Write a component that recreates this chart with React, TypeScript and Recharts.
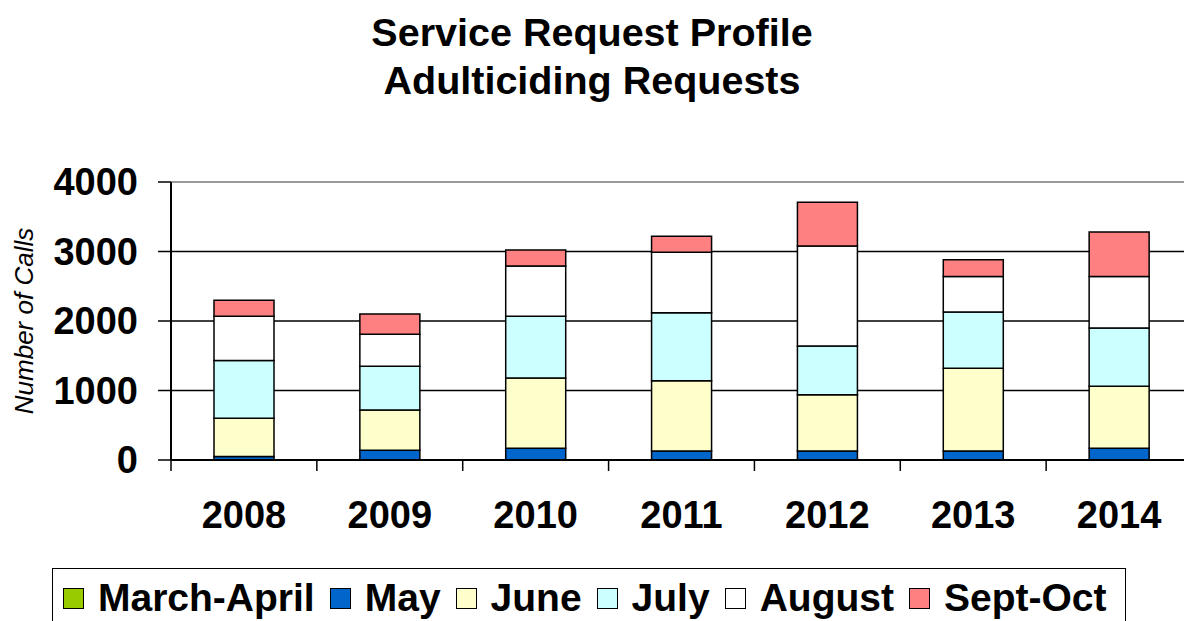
import React from 'react';
import { BarChart, Bar, XAxis, YAxis, CartesianGrid, Legend, ReferenceLine } from 'recharts';

const years = ['2008', '2009', '2010', '2011', '2012', '2013', '2014'];
const marchApril = [0, 0, 0, 0, 0, 0, 0];
const may = [50, 140, 170, 130, 130, 130, 170];
const june = [550, 580, 1010, 1010, 810, 1190, 890];
const july = [830, 630, 890, 980, 700, 810, 840];
const august = [640, 460, 720, 870, 1440, 510, 740];
const septOct = [230, 290, 230, 230, 630, 240, 640];
const yTicks = [0, 1000, 2000, 3000, 4000];

const seriesKeys = ['marchApril', 'may', 'june', 'july', 'august', 'septOct'];
const seriesNames = ['March-April', 'May', 'June', 'July', 'August', 'Sept-Oct'];
const seriesColors = ['#99CC00', '#0066CC', '#FFFFCC', '#CCFFFF', '#FFFFFF', '#FF8080'];
const seriesValues = [marchApril, may, june, july, august, septOct];

const data = years.map((year, i) => {
  const row: Record<string, string | number> = { year };
  seriesKeys.forEach((k, s) => {
    row[k] = seriesValues[s][i];
  });
  return row;
});

const FONT = '"Liberation Sans", Arial, Helvetica, sans-serif';

const XTick = (props: any) => {
  const { x, y, payload } = props;
  const half = payload && payload.offset ? payload.offset : 72.9;
  return (
    <g>
      <line x1={x - half} y1={y} x2={x - half} y2={y + 11} stroke="#000" strokeWidth={1.5} />
      <text
        x={x}
        y={y + 68}
        textAnchor="middle"
        fontFamily={FONT}
        fontWeight="bold"
        fontSize={38}
        fill="#000"
      >
        {payload.value}
      </text>
    </g>
  );
};

const YLabel = (props: any) => {
  const vb = props.viewBox || { x: 0, y: 182, width: 171, height: 277 };
  const cx = vb.x + 24;
  const cy = vb.y + vb.height / 2;
  return (
    <text
      x={cx}
      y={cy}
      transform={`rotate(-90, ${cx}, ${cy})`}
      textAnchor="middle"
      dominantBaseline="central"
      fontFamily={FONT}
      fontStyle="italic"
      fontSize={26}
      fill="#000"
    >
      Number of Calls
    </text>
  );
};

const LegendContent = () => (
  <div
    style={{
      display: 'flex',
      alignItems: 'center',
      border: '1.5px solid #000',
      background: '#fff',
      boxSizing: 'border-box',
      width: 1074,
      height: 70,
      padding: '0 0 10px 10px',
      fontFamily: FONT,
      fontWeight: 'bold',
      fontSize: 39,
      color: '#000',
      whiteSpace: 'nowrap',
    }}
  >
    {seriesNames.map((name, i) => (
      <div key={name} style={{ display: 'flex', alignItems: 'center', marginRight: 15 }}>
        <span
          style={{
            display: 'inline-block',
            width: 19,
            height: 19,
            background: seriesColors[i],
            border: '1.5px solid #000',
            marginRight: 14,
          }}
        />
        <span>{name}</span>
      </div>
    ))}
  </div>
);

export default function App() {
  return (
    <div
      style={{
        position: 'fixed',
        left: 0,
        top: 0,
        width: 1184,
        height: 621,
        overflow: 'hidden',
        background: '#fff',
      }}
    >
      <div
        style={{
          position: 'absolute',
          left: 0,
          top: 8,
          width: 1184,
          textAlign: 'center',
          fontFamily: FONT,
          fontWeight: 'bold',
          fontSize: 39.5,
          lineHeight: '48px',
          color: '#000',
        }}
      >
        <div>Service Request Profile</div>
        <div>Adulticiding Requests</div>
      </div>
      <div style={{ position: 'absolute', left: 0, top: 0 }}>
        <BarChart
          width={1200}
          height={621}
          data={data}
          margin={{ top: 182, right: 8, bottom: 91, left: 0 }}
          barSize={60}
        >
          <CartesianGrid vertical={false} stroke="#000" strokeWidth={1.5} />
          <ReferenceLine y={4000} stroke="#999" strokeWidth={2} />
          <XAxis
            dataKey="year"
            height={70}
            axisLine={{ stroke: '#000', strokeWidth: 2 }}
            tickLine={false}
            tickSize={0}
            tickMargin={0}
            tick={<XTick />}
            interval={0}
          />
          <YAxis
            width={171}
            domain={[0, 4000]}
            ticks={yTicks}
            interval={0}
            axisLine={{ stroke: '#000', strokeWidth: 2 }}
            tickLine={{ stroke: '#000', strokeWidth: 1.5 }}
            tickSize={13}
            tickMargin={20}
            tick={{ fontFamily: FONT, fontWeight: 'bold', fontSize: 38, fill: '#000' }}
            label={<YLabel />}
          />
          <Legend
            layout="horizontal"
            verticalAlign="middle"
            align="center"
            content={<LegendContent />}
            wrapperStyle={{ position: 'absolute', left: 52, top: 568, width: 1074, height: 70 }}
          />
          {seriesKeys.map((k, i) => (
            <Bar
              key={k}
              dataKey={k}
              name={seriesNames[i]}
              stackId="a"
              fill={seriesColors[i]}
              stroke="#000"
              strokeWidth={1.5}
              isAnimationActive={false}
            />
          ))}
        </BarChart>
      </div>
    </div>
  );
}
